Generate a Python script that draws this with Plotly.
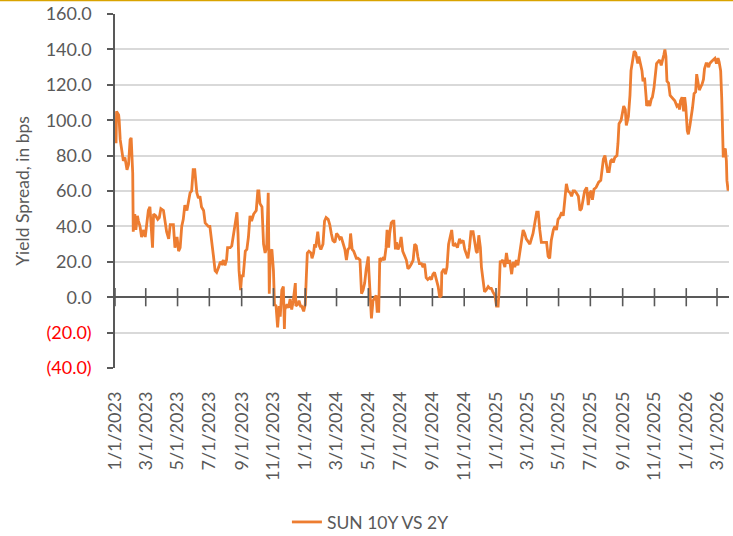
import plotly.graph_objects as go

# ---- data ----
dates = [
    "2023-01-03", "2023-01-04", "2023-01-08", "2023-01-09", "2023-01-11", "2023-01-14", "2023-01-17", "2023-01-20",
    "2023-01-24", "2023-01-27", "2023-01-30", "2023-02-01", "2023-02-04", "2023-02-05", "2023-02-08", "2023-02-10",
    "2023-02-13", "2023-02-15", "2023-02-18", "2023-02-21", "2023-02-25", "2023-02-28", "2023-03-03", "2023-03-06",
    "2023-03-09", "2023-03-11", "2023-03-14", "2023-03-16", "2023-03-20", "2023-03-24", "2023-03-27", "2023-03-30",
    "2023-04-04", "2023-04-07", "2023-04-10", "2023-04-14", "2023-04-17", "2023-04-23", "2023-04-26", "2023-04-30",
    "2023-05-03", "2023-05-06", "2023-05-09", "2023-05-12", "2023-05-15", "2023-05-19", "2023-05-22", "2023-05-25",
    "2023-05-28", "2023-05-31", "2023-06-03", "2023-06-07", "2023-06-10", "2023-06-13", "2023-06-16", "2023-06-20",
    "2023-06-23", "2023-06-29", "2023-07-02", "2023-07-06", "2023-07-09", "2023-07-12", "2023-07-15", "2023-07-19",
    "2023-07-22", "2023-07-25", "2023-07-28", "2023-07-31", "2023-08-03", "2023-08-05", "2023-08-10", "2023-08-13",
    "2023-08-16", "2023-08-19", "2023-08-23", "2023-08-25", "2023-08-27", "2023-08-30", "2023-09-01", "2023-09-04",
    "2023-09-08", "2023-09-11", "2023-09-14", "2023-09-17", "2023-09-20", "2023-09-24", "2023-09-27", "2023-09-29",
    "2023-10-02", "2023-10-04", "2023-10-06", "2023-10-10", "2023-10-13", "2023-10-16", "2023-10-19", "2023-10-21",
    "2023-10-22", "2023-10-24", "2023-10-26", "2023-10-29", "2023-11-01", "2023-11-03", "2023-11-06", "2023-11-09",
    "2023-11-12", "2023-11-14", "2023-11-17", "2023-11-20", "2023-11-22", "2023-11-23", "2023-11-27", "2023-11-30",
    "2023-12-03", "2023-12-06", "2023-12-09", "2023-12-13", "2023-12-14", "2023-12-18", "2023-12-20", "2023-12-23",
    "2023-12-25", "2023-12-29",
    "2024-01-01", "2024-01-03", "2024-01-05", "2024-01-08", "2024-01-12", "2024-01-14", "2024-01-17", "2024-01-19",
    "2024-01-21", "2024-01-25", "2024-01-28", "2024-01-31", "2024-02-04", "2024-02-07", "2024-02-10", "2024-02-14",
    "2024-02-17", "2024-02-20", "2024-02-23", "2024-02-27", "2024-03-01", "2024-03-04", "2024-03-07", "2024-03-10",
    "2024-03-14", "2024-03-17", "2024-03-20", "2024-03-23", "2024-03-26", "2024-03-28", "2024-03-31", "2024-04-03",
    "2024-04-08", "2024-04-11", "2024-04-15", "2024-04-18", "2024-04-21", "2024-04-24", "2024-04-27", "2024-05-01",
    "2024-05-02", "2024-05-05", "2024-05-07", "2024-05-10", "2024-05-13", "2024-05-16", "2024-05-18", "2024-05-21",
    "2024-05-23", "2024-05-26", "2024-05-29", "2024-06-01", "2024-06-04", "2024-06-06", "2024-06-09", "2024-06-11",
    "2024-06-14", "2024-06-17", "2024-06-19", "2024-06-22", "2024-06-24", "2024-06-27", "2024-06-30", "2024-07-03",
    "2024-07-06", "2024-07-10", "2024-07-13", "2024-07-16", "2024-07-19", "2024-07-23", "2024-07-26", "2024-07-29",
    "2024-08-01", "2024-08-04", "2024-08-07", "2024-08-11", "2024-08-14", "2024-08-17", "2024-08-20", "2024-08-23",
    "2024-08-27", "2024-08-30", "2024-09-02", "2024-09-05", "2024-09-08", "2024-09-12", "2024-09-15", "2024-09-18",
    "2024-09-19", "2024-09-23", "2024-09-26", "2024-09-29", "2024-10-02", "2024-10-05", "2024-10-08", "2024-10-11",
    "2024-10-15", "2024-10-19", "2024-10-23", "2024-10-26", "2024-10-30", "2024-11-02", "2024-11-05", "2024-11-08",
    "2024-11-11", "2024-11-14", "2024-11-18", "2024-11-21", "2024-11-24", "2024-11-26", "2024-11-29", "2024-12-02",
    "2024-12-04", "2024-12-07", "2024-12-10", "2024-12-13", "2024-12-17", "2024-12-20", "2024-12-23", "2024-12-26",
    "2024-12-30",
    "2025-01-02", "2025-01-05", "2025-01-07", "2025-01-09", "2025-01-11", "2025-01-14", "2025-01-18", "2025-01-21",
    "2025-01-24", "2025-01-27", "2025-01-31", "2025-02-03", "2025-02-06", "2025-02-09", "2025-02-12", "2025-02-15",
    "2025-02-19", "2025-02-22", "2025-02-25", "2025-02-28", "2025-03-07", "2025-03-13", "2025-03-20", "2025-03-23",
    "2025-03-26", "2025-03-29", "2025-04-08", "2025-04-11", "2025-04-14", "2025-04-17", "2025-04-21", "2025-04-24",
    "2025-04-27", "2025-04-30", "2025-05-03", "2025-05-07", "2025-05-10", "2025-05-13", "2025-05-16", "2025-05-19",
    "2025-05-23", "2025-05-26", "2025-05-29", "2025-06-01", "2025-06-04", "2025-06-08", "2025-06-11", "2025-06-14",
    "2025-06-17", "2025-06-20", "2025-06-24", "2025-06-27", "2025-06-30", "2025-07-03", "2025-07-05", "2025-07-08",
    "2025-07-12", "2025-07-14", "2025-07-17", "2025-07-21", "2025-07-23", "2025-07-26", "2025-07-29", "2025-07-31",
    "2025-08-03", "2025-08-06", "2025-08-09", "2025-08-12", "2025-08-14", "2025-08-17", "2025-08-21", "2025-08-23",
    "2025-08-25", "2025-08-29", "2025-08-31", "2025-09-03", "2025-09-06", "2025-09-08", "2025-09-12", "2025-09-15",
    "2025-09-17", "2025-09-20", "2025-09-23", "2025-09-26", "2025-09-28", "2025-09-30", "2025-10-02", "2025-10-05",
    "2025-10-08", "2025-10-10", "2025-10-13", "2025-10-16", "2025-10-17", "2025-10-20", "2025-10-23", "2025-10-26",
    "2025-10-28", "2025-10-31", "2025-11-03", "2025-11-05", "2025-11-08", "2025-11-11", "2025-11-14", "2025-11-16",
    "2025-11-19", "2025-11-21", "2025-11-23", "2025-11-25", "2025-11-28", "2025-12-01", "2025-12-04", "2025-12-07",
    "2025-12-10", "2025-12-14", "2025-12-17", "2025-12-19", "2025-12-21", "2025-12-24", "2025-12-27", "2025-12-29",
    "2025-12-31",
    "2026-01-03", "2026-01-05", "2026-01-08", "2026-01-11", "2026-01-13", "2026-01-16", "2026-01-19", "2026-01-21",
    "2026-01-24", "2026-01-26", "2026-01-29", "2026-01-31", "2026-02-03", "2026-02-05", "2026-02-08", "2026-02-10",
    "2026-02-13", "2026-02-15", "2026-02-18", "2026-02-22", "2026-02-25", "2026-02-28", "2026-03-03", "2026-03-05",
    "2026-03-08", "2026-03-10", "2026-03-11", "2026-03-13", "2026-03-15", "2026-03-17", "2026-03-19", "2026-03-20",
    "2026-03-22", "2026-03-24",
]

spread_bps = [
    87, 105, 103, 100, 89, 83, 77, 79,
    72, 75, 89, 90, 70, 37, 47, 38,
    46, 43, 40, 34, 38, 34, 42, 49,
    51, 42, 28, 47, 46, 44, 45, 50,
    49, 43, 37, 33, 41, 41, 28, 34,
    26, 28, 40, 44, 52, 49, 55, 59,
    60, 72, 72, 59, 56, 57, 51, 49,
    42, 40, 40, 28, 23, 15, 14, 17,
    20, 19, 21, 18, 21, 28, 28, 29,
    34, 40, 48, 36, 15, 4, 12, 12,
    26, 27, 34, 46, 43, 47, 48, 49,
    60, 60, 53, 51, 30, 25, 28, 59,
    59, 2, 25, 27, 15, -4, -5, -17,
    -5, -11, 4, 6, -18, -7, -4, -6,
    -1, -7, -2, 8, -5, -4, -2, -5,
    -5, -8,
    -4, 11, 25, 26, 25, 22, 25, 30,
    28, 37, 29, 27, 30, 43, 45, 44,
    41, 36, 32, 31, 36, 35, 33, 34,
    29, 27, 21, 27, 28, 36, 27, 26,
    22, 22, 21, 2, 4, 8, 16, 23,
    15, -5, -12, -2, 0, 1, -8, -8,
    22, 21, 22, 21, 28, 38, 28, 36,
    42, 43, 43, 27, 31, 27, 29, 34,
    26, 23, 21, 16, 17, 19, 21, 30,
    29, 23, 19, 19, 17, 19, 11, 10,
    11, 10, 13, 14, 10, 6, 0, 1,
    14, 16, 13, 17, 30, 34, 38, 29,
    30, 28, 33, 31, 32, 27, 24, 22,
    28, 37, 37, 31, 26, 25, 35, 28,
    17, 10, 3, 4, 6, 5, 5, 3,
    1,
    -5, -5, 4, 20, 20, 21, 17, 25,
    19, 21, 13, 20, 17, 21, 18, 24,
    34, 38, 36, 33, 30, 36, 48, 48,
    38, 31, 31, 23, 22, 32, 38, 40,
    38, 44, 45, 48, 46, 57, 64, 60,
    59, 57, 60, 60, 59, 57, 49, 50,
    55, 60, 62, 52, 59, 60, 55, 61,
    62, 63, 65, 66, 72, 78, 80, 75,
    71, 71, 77, 78, 76, 79, 80, 87,
    98, 100, 103, 108, 106, 97, 102, 114,
    128, 135, 139, 138, 135, 132, 136, 132,
    128, 122, 124, 113, 108, 111, 108, 112,
    113, 118, 125, 132, 133, 134, 131, 133,
    137, 140, 136, 122, 121, 114, 113, 112,
    111, 108, 109, 106, 111, 113, 105, 113,
    108,
    94, 92, 97, 102, 107, 115, 116, 126,
    120, 117, 119, 120, 123, 129, 132, 132,
    130, 132, 133, 134, 135, 132, 135, 133,
    128, 113, 94, 79, 83, 84, 77, 66,
    61, 61,
]

series_name = "SUN 10Y VS 2Y"

x_tick_dates = [
    "2023-01-01", "2023-03-01", "2023-05-01", "2023-07-01", "2023-09-01", "2023-11-01",
    "2024-01-01", "2024-03-01", "2024-05-01", "2024-07-01", "2024-09-01", "2024-11-01",
    "2025-01-01", "2025-03-01", "2025-05-01", "2025-07-01", "2025-09-01", "2025-11-01",
    "2026-01-01", "2026-03-01",
]
x_tick_labels = [
    "1/1/2023", "3/1/2023", "5/1/2023", "7/1/2023", "9/1/2023", "11/1/2023",
    "1/1/2024", "3/1/2024", "5/1/2024", "7/1/2024", "9/1/2024", "11/1/2024",
    "1/1/2025", "3/1/2025", "5/1/2025", "7/1/2025", "9/1/2025", "11/1/2025",
    "1/1/2026", "3/1/2026",
]
y_tick_values = [-40, -20, 0, 20, 40, 60, 80, 100, 120, 140, 160]
y_tick_labels = [
    "<span style='color:#FF0000'>(40.0)</span>",
    "<span style='color:#FF0000'>(20.0)</span>",
    "0.0", "20.0", "40.0", "60.0", "80.0", "100.0", "120.0", "140.0", "160.0",
]

FONT = "Lato, 'Open Sans', sans-serif"
GREY = "#595959"

fig = go.Figure()

fig.add_trace(go.Scatter(
    x=dates, y=spread_bps, mode="lines", name=series_name,
    line=dict(color="#ED7D31", width=2.8),
))

# cross tick marks on the horizontal axis (which crosses at zero)
fig.add_trace(go.Scatter(
    x=x_tick_dates, y=[0] * len(x_tick_dates), mode="markers",
    marker=dict(symbol="line-ns", size=13, line=dict(color=GREY, width=1.6)),
    showlegend=False, hoverinfo="skip", cliponaxis=False,
))

fig.update_layout(
    width=733, height=536,
    margin=dict(l=115, r=4, t=14, b=168, autoexpand=False),
    paper_bgcolor="white", plot_bgcolor="white",
    font=dict(family=FONT, color=GREY),
    showlegend=True,
    legend=dict(orientation="h", x=0.416, xanchor="center",
                yref="container", y=0.026, yanchor="middle",
                font=dict(size=17.5, color=GREY, family=FONT)),
    shapes=[dict(type="line", xref="paper", yref="paper",
                 x0=-0.2, x1=1.1, y0=1.0385, y1=1.0385,
                 line=dict(color="#D9A300", width=2))],
)

fig.update_xaxes(
    type="date",
    range=["2023-01-01", "2026-03-24"],
    tickmode="array", tickvals=x_tick_dates, ticktext=x_tick_labels,
    tickangle=-90, tickfont=dict(size=18, color=GREY, family=FONT),
    showgrid=False, showline=False, ticks="", zeroline=False,
    ticklabelstandoff=19,
    automargin=False,
)

fig.update_yaxes(
    range=[-40, 160],
    tickmode="array", tickvals=y_tick_values, ticktext=y_tick_labels,
    tickfont=dict(size=18, color=GREY, family=FONT),
    showgrid=True, gridcolor="#D9D9D9", gridwidth=1.5,
    showline=True, linecolor=GREY, linewidth=1.5,
    ticks="outside", ticklen=6, tickcolor=GREY, tickwidth=1.5,
    zeroline=True, zerolinecolor=GREY, zerolinewidth=1.6,
    ticklabelstandoff=12,
    title=dict(text="Yield Spread, in bps", font=dict(size=17.5, color=GREY, family=FONT), standoff=12),
    automargin=False,
)

fig.write_html(
    "out.html",
    config={"displayModeBar": False},
    post_script="document.body.style.margin='0';document.body.style.overflow='hidden';",
)
